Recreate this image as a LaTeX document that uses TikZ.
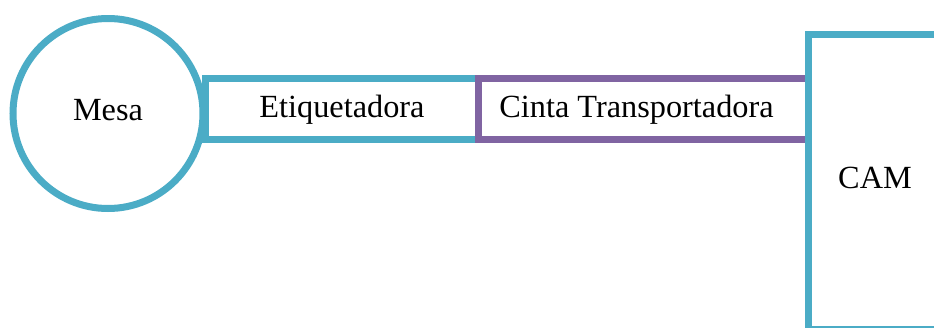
\documentclass[tikz,border=0pt]{standalone}
\usepackage{fontspec}
\setmainfont{Liberation Serif}
\definecolor{accblue}{HTML}{4BACC6}
\definecolor{accpurple}{HTML}{8064A2}
\begin{document}
\begin{tikzpicture}[x=1pt,y=-1pt,
  lbl/.style={font=\fontsize{32.3}{38}\selectfont, text=black, inner sep=0pt},
  boxb/.style={draw=accblue, line width=7pt, fill=white, rectangle, inner sep=0pt, outer sep=0pt},
  boxp/.style={draw=accpurple, line width=7pt, rectangle, inner sep=0pt, outer sep=0pt}]
\useasboundingbox (0,0) rectangle (934,327);
\clip (0,0) rectangle (934,327);
\fill[white] (0,0) rectangle (934,327);
% Etiquetadora
\node[boxb, minimum width=273pt, minimum height=60.5pt] (etiq) at (341.5,108.75) {};
\node[lbl] (etiqt) at (342,109.5) {Etiquetadora};
% Cinta Transportadora
\node[boxp, minimum width=330pt, minimum height=60.5pt] (cinta) at (643,108.75) {};
\node[lbl] (cintat) at (636.5,109.5) {Cinta Transportadora};
% Mesa
\node[boxb, circle, minimum size=190pt] (mesa) at (108,113.5) {};
\node[lbl] (mesat) at (108,110) {Mesa};
% CAM
\draw[accblue, line width=7pt] (808.5,34.5) rectangle (1000,329.5);
\coordinate (camc) at (875,178);
\node[lbl] (cam) at (camc) {CAM};
\end{tikzpicture}
\end{document}
